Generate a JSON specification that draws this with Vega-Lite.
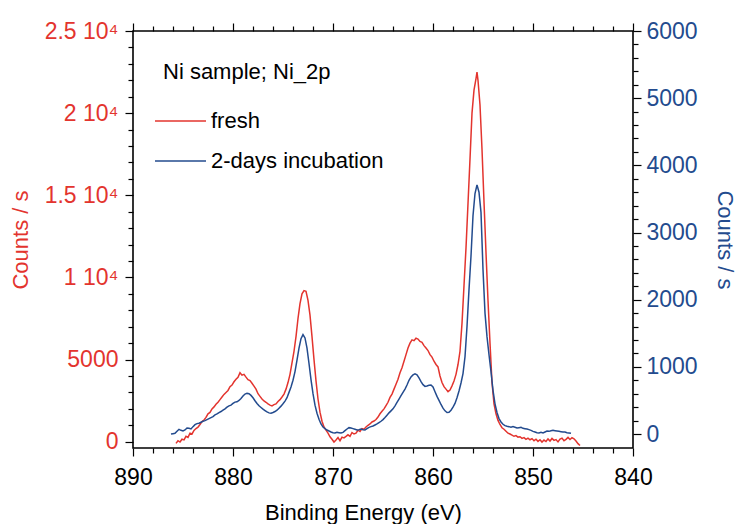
{
  "$schema": "https://vega.github.io/schema/vega-lite/v6.json",
  "width": 500,
  "height": 417,
  "autosize": "none",
  "padding": {"left": 133, "top": 31, "right": 106, "bottom": 76},
  "background": "white",
  "title": {"text": "Ni sample; Ni_2p", "anchor": "start", "frame": "group", "orient": "top", "offset": 0, "dx": 30, "dy": 81, "baseline": "alphabetic", "fontSize": 22, "fontWeight": "normal", "color": "black"},
  "config": {
    "font": "Liberation Sans",
    "view": {"stroke": "black", "strokeWidth": 1.6},
    "axis": {"grid": false, "zindex": 2, "domain": false, "labelFontSize": 23, "titleFontSize": 22, "titleFontWeight": "normal", "labelOverlap": false, "labelFlush": false}
  },
  "datasets": {
    "fresh": [
      {"e":885.7,"c":-100},{"e":885.5,"c":60},{"e":885.3,"c":-20},{"e":885.1,"c":150},{"e":884.9,"c":110},{"e":884.7,"c":330},{"e":884.5,"c":260},{"e":884.3,"c":520},{"e":884.1,"c":470},{"e":883.9,"c":690},{"e":883.7,"c":800},{"e":883.5,"c":880},{"e":883.3,"c":1050},{"e":883.1,"c":1230},{"e":882.9,"c":1320},{"e":882.7,"c":1480},{"e":882.5,"c":1700},{"e":882.3,"c":1780},{"e":882.1,"c":2000},{"e":881.9,"c":2120},{"e":881.7,"c":2280},{"e":881.5,"c":2400},{"e":881.3,"c":2560},{"e":881.1,"c":2720},{"e":880.9,"c":2880},{"e":880.7,"c":3000},{"e":880.5,"c":3120},{"e":880.3,"c":3350},{"e":880.1,"c":3450},{"e":879.9,"c":3650},{"e":879.7,"c":3800},{"e":879.5,"c":3920},{"e":879.3,"c":4200},{"e":879.1,"c":4050},{"e":878.9,"c":4100},{"e":878.7,"c":3930},{"e":878.5,"c":3780},{"e":878.3,"c":3720},{"e":878.1,"c":3560},{"e":877.9,"c":3380},{"e":877.7,"c":3200},{"e":877.5,"c":2920},{"e":877.3,"c":2760},{"e":877.1,"c":2600},{"e":876.9,"c":2480},{"e":876.7,"c":2400},{"e":876.5,"c":2300},{"e":876.3,"c":2230},{"e":876.1,"c":2180},{"e":875.9,"c":2260},{"e":875.7,"c":2300},{"e":875.5,"c":2450},{"e":875.3,"c":2560},{"e":875.1,"c":2720},{"e":874.9,"c":2900},{"e":874.7,"c":3200},{"e":874.5,"c":3600},{"e":874.3,"c":4100},{"e":874.1,"c":4800},{"e":873.9,"c":5500},{"e":873.7,"c":6400},{"e":873.5,"c":7500},{"e":873.3,"c":8400},{"e":873.1,"c":9000},{"e":872.9,"c":9200},{"e":872.7,"c":9150},{"e":872.5,"c":8600},{"e":872.3,"c":7700},{"e":872.1,"c":6400},{"e":871.9,"c":5000},{"e":871.7,"c":3700},{"e":871.5,"c":2600},{"e":871.3,"c":1800},{"e":871.1,"c":1250},{"e":870.9,"c":900},{"e":870.7,"c":700},{"e":870.5,"c":520},{"e":870.3,"c":300},{"e":870.1,"c":150},{"e":869.9,"c":-20},{"e":869.7,"c":100},{"e":869.5,"c":250},{"e":869.3,"c":60},{"e":869.1,"c":280},{"e":868.9,"c":230},{"e":868.7,"c":320},{"e":868.5,"c":420},{"e":868.3,"c":330},{"e":868.1,"c":560},{"e":867.9,"c":470},{"e":867.7,"c":520},{"e":867.5,"c":700},{"e":867.3,"c":620},{"e":867.1,"c":800},{"e":866.9,"c":760},{"e":866.7,"c":900},{"e":866.5,"c":1000},{"e":866.3,"c":1080},{"e":866.1,"c":1200},{"e":865.9,"c":1260},{"e":865.7,"c":1350},{"e":865.5,"c":1500},{"e":865.3,"c":1700},{"e":865.1,"c":1850},{"e":864.9,"c":2000},{"e":864.7,"c":2200},{"e":864.5,"c":2400},{"e":864.3,"c":2700},{"e":864.1,"c":2900},{"e":863.9,"c":3200},{"e":863.7,"c":3500},{"e":863.5,"c":3800},{"e":863.3,"c":4200},{"e":863.1,"c":4500},{"e":862.9,"c":4900},{"e":862.7,"c":5300},{"e":862.5,"c":5700},{"e":862.3,"c":6000},{"e":862.1,"c":6200},{"e":861.9,"c":6150},{"e":861.7,"c":6300},{"e":861.5,"c":6250},{"e":861.3,"c":6100},{"e":861.1,"c":6050},{"e":860.9,"c":5850},{"e":860.7,"c":5700},{"e":860.5,"c":5550},{"e":860.3,"c":5300},{"e":860.1,"c":5150},{"e":859.9,"c":4900},{"e":859.7,"c":4700},{"e":859.5,"c":4550},{"e":859.3,"c":4000},{"e":859.1,"c":3600},{"e":858.9,"c":3350},{"e":858.7,"c":3200},{"e":858.5,"c":3050},{"e":858.3,"c":3150},{"e":858.1,"c":3400},{"e":857.9,"c":3700},{"e":857.7,"c":4100},{"e":857.5,"c":4700},{"e":857.3,"c":5500},{"e":857.1,"c":7200},{"e":856.9,"c":9500},{"e":856.7,"c":11800},{"e":856.5,"c":14500},{"e":856.3,"c":17200},{"e":856.1,"c":20000},{"e":855.9,"c":21400},{"e":855.7,"c":22100},{"e":855.6,"c":22500},{"e":855.5,"c":22000},{"e":855.3,"c":20500},{"e":855.1,"c":17800},{"e":854.9,"c":14600},{"e":854.7,"c":11500},{"e":854.5,"c":8600},{"e":854.3,"c":6000},{"e":854.1,"c":3600},{"e":853.9,"c":2300},{"e":853.7,"c":1700},{"e":853.5,"c":1300},{"e":853.3,"c":1050},{"e":853.1,"c":850},{"e":852.9,"c":760},{"e":852.7,"c":640},{"e":852.5,"c":520},{"e":852.3,"c":470},{"e":852.1,"c":400},{"e":851.9,"c":330},{"e":851.7,"c":370},{"e":851.5,"c":280},{"e":851.3,"c":300},{"e":851.1,"c":200},{"e":850.9,"c":250},{"e":850.7,"c":140},{"e":850.5,"c":220},{"e":850.3,"c":120},{"e":850.1,"c":190},{"e":849.9,"c":60},{"e":849.7,"c":150},{"e":849.5,"c":20},{"e":849.3,"c":120},{"e":849.1,"c":-20},{"e":848.9,"c":100},{"e":848.7,"c":10},{"e":848.5,"c":170},{"e":848.3,"c":40},{"e":848.1,"c":200},{"e":847.9,"c":80},{"e":847.7,"c":130},{"e":847.5,"c":-10},{"e":847.3,"c":160},{"e":847.1,"c":220},{"e":846.9,"c":60},{"e":846.7,"c":140},{"e":846.5,"c":260},{"e":846.3,"c":130},{"e":846.1,"c":240},{"e":845.9,"c":180},{"e":845.7,"c":40},{"e":845.5,"c":-120},{"e":845.3,"c":-230}
    ],
    "incubation": [
      {"e":886.2,"c":0},{"e":886.0,"c":5},{"e":885.8,"c":10},{"e":885.6,"c":40},{"e":885.4,"c":70},{"e":885.2,"c":55},{"e":885.0,"c":45},{"e":884.8,"c":60},{"e":884.6,"c":90},{"e":884.4,"c":85},{"e":884.2,"c":75},{"e":884.0,"c":110},{"e":883.8,"c":140},{"e":883.6,"c":155},{"e":883.4,"c":160},{"e":883.2,"c":175},{"e":883.0,"c":190},{"e":882.8,"c":200},{"e":882.6,"c":215},{"e":882.4,"c":230},{"e":882.2,"c":245},{"e":882.0,"c":260},{"e":881.8,"c":285},{"e":881.6,"c":300},{"e":881.4,"c":320},{"e":881.2,"c":335},{"e":881.0,"c":355},{"e":880.8,"c":375},{"e":880.6,"c":400},{"e":880.4,"c":420},{"e":880.2,"c":430},{"e":880.0,"c":455},{"e":879.8,"c":475},{"e":879.6,"c":480},{"e":879.4,"c":500},{"e":879.2,"c":530},{"e":879.0,"c":565},{"e":878.8,"c":595},{"e":878.6,"c":605},{"e":878.4,"c":600},{"e":878.2,"c":575},{"e":878.0,"c":540},{"e":877.8,"c":495},{"e":877.6,"c":455},{"e":877.4,"c":420},{"e":877.2,"c":395},{"e":877.0,"c":370},{"e":876.8,"c":350},{"e":876.6,"c":330},{"e":876.4,"c":315},{"e":876.2,"c":310},{"e":876.0,"c":320},{"e":875.8,"c":335},{"e":875.6,"c":355},{"e":875.4,"c":385},{"e":875.2,"c":415},{"e":875.0,"c":450},{"e":874.8,"c":490},{"e":874.6,"c":540},{"e":874.4,"c":620},{"e":874.2,"c":700},{"e":874.0,"c":800},{"e":873.8,"c":930},{"e":873.6,"c":1100},{"e":873.4,"c":1280},{"e":873.2,"c":1420},{"e":873.0,"c":1480},{"e":872.8,"c":1430},{"e":872.6,"c":1280},{"e":872.4,"c":1050},{"e":872.2,"c":810},{"e":872.0,"c":600},{"e":871.8,"c":430},{"e":871.6,"c":310},{"e":871.4,"c":220},{"e":871.2,"c":150},{"e":871.0,"c":105},{"e":870.8,"c":80},{"e":870.6,"c":60},{"e":870.4,"c":45},{"e":870.2,"c":30},{"e":870.0,"c":20},{"e":869.8,"c":15},{"e":869.6,"c":25},{"e":869.4,"c":20},{"e":869.2,"c":15},{"e":869.0,"c":25},{"e":868.8,"c":50},{"e":868.6,"c":75},{"e":868.4,"c":95},{"e":868.2,"c":90},{"e":868.0,"c":80},{"e":867.8,"c":70},{"e":867.6,"c":60},{"e":867.4,"c":65},{"e":867.2,"c":75},{"e":867.0,"c":65},{"e":866.8,"c":60},{"e":866.6,"c":80},{"e":866.4,"c":100},{"e":866.2,"c":110},{"e":866.0,"c":120},{"e":865.8,"c":135},{"e":865.6,"c":150},{"e":865.4,"c":170},{"e":865.2,"c":190},{"e":865.0,"c":215},{"e":864.8,"c":245},{"e":864.6,"c":280},{"e":864.4,"c":315},{"e":864.2,"c":345},{"e":864.0,"c":375},{"e":863.8,"c":420},{"e":863.6,"c":470},{"e":863.4,"c":520},{"e":863.2,"c":570},{"e":863.0,"c":620},{"e":862.8,"c":670},{"e":862.6,"c":730},{"e":862.4,"c":800},{"e":862.2,"c":850},{"e":862.0,"c":880},{"e":861.8,"c":895},{"e":861.6,"c":880},{"e":861.4,"c":835},{"e":861.2,"c":780},{"e":861.0,"c":735},{"e":860.8,"c":710},{"e":860.6,"c":715},{"e":860.4,"c":725},{"e":860.2,"c":730},{"e":860.0,"c":700},{"e":859.8,"c":630},{"e":859.6,"c":560},{"e":859.4,"c":500},{"e":859.2,"c":440},{"e":859.0,"c":385},{"e":858.8,"c":345},{"e":858.6,"c":320},{"e":858.4,"c":325},{"e":858.2,"c":355},{"e":858.0,"c":400},{"e":857.8,"c":455},{"e":857.6,"c":540},{"e":857.4,"c":640},{"e":857.2,"c":760},{"e":857.0,"c":900},{"e":856.8,"c":1150},{"e":856.6,"c":1600},{"e":856.4,"c":2150},{"e":856.2,"c":2650},{"e":856.0,"c":3250},{"e":855.8,"c":3580},{"e":855.6,"c":3710},{"e":855.4,"c":3600},{"e":855.2,"c":3300},{"e":855.0,"c":2450},{"e":854.8,"c":1800},{"e":854.6,"c":1450},{"e":854.4,"c":1180},{"e":854.2,"c":930},{"e":854.0,"c":650},{"e":853.8,"c":450},{"e":853.6,"c":320},{"e":853.4,"c":230},{"e":853.2,"c":180},{"e":853.0,"c":145},{"e":852.8,"c":125},{"e":852.6,"c":115},{"e":852.4,"c":110},{"e":852.2,"c":100},{"e":852.0,"c":110},{"e":851.8,"c":100},{"e":851.6,"c":90},{"e":851.4,"c":95},{"e":851.2,"c":100},{"e":851.0,"c":85},{"e":850.8,"c":80},{"e":850.6,"c":75},{"e":850.4,"c":65},{"e":850.2,"c":55},{"e":850.0,"c":40},{"e":849.8,"c":30},{"e":849.6,"c":20},{"e":849.4,"c":15},{"e":849.2,"c":25},{"e":849.0,"c":15},{"e":848.8,"c":30},{"e":848.6,"c":45},{"e":848.4,"c":40},{"e":848.2,"c":50},{"e":848.0,"c":55},{"e":847.8,"c":50},{"e":847.6,"c":45},{"e":847.4,"c":40},{"e":847.2,"c":35},{"e":847.0,"c":30},{"e":846.8,"c":30},{"e":846.6,"c":20},{"e":846.4,"c":15},{"e":846.2,"c":10}
    ]
  },
  "layer": [
    {
      "data": {"name": "fresh"},
      "mark": {"type": "line", "strokeWidth": 1.5},
      "encoding": {
        "x": {
          "field": "e", "type": "quantitative",
          "scale": {"domain": [840, 890], "reverse": true, "nice": false, "zero": false},
          "axis": {
            "orient": "bottom",
            "title": "Binding Energy (eV)",
            "titleColor": "black",
            "titleX": 230, "titleY": 71, "titleBaseline": "alphabetic", "titleAnchor": "middle",
            "values": [840,842,844,846,848,850,852,854,856,858,860,862,864,866,868,870,872,874,876,878,880,882,884,886,888,890],
            "format": "d",
            "labelExpr": "datum.value % 10 === 0 ? datum.label : ''",
            "labelColor": "black",
            "labelBaseline": "alphabetic",
            "ticks": true,
            "tickColor": "#000000",
            "tickWidth": 1.2,
            "tickSize": {"condition": {"test": "datum.value % 10 === 0", "value": 8}, "value": 5},
            "labelPadding": 28
          }
        },
        "y": {
          "field": "c", "type": "quantitative",
          "scale": {"domain": [-383, 25000], "nice": false, "zero": false},
          "axis": {
            "orient": "left",
            "title": "Counts / s",
            "titleColor": "#e3342e",
            "titlePadding": 12,
            "values": [0,1000,2000,3000,4000,5000,6000,7000,8000,9000,10000,11000,12000,13000,14000,15000,16000,17000,18000,19000,20000,21000,22000,23000,24000,25000],
            "labelExpr": "datum.value == 25000 ? '2.5 10⁴' : datum.value == 20000 ? '2 10⁴' : datum.value == 15000 ? '1.5 10⁴' : datum.value == 10000 ? '1 10⁴' : datum.value == 5000 ? '5000' : datum.value == 0 ? '0' : ''",
            "labelColor": "#e3342e",
            "ticks": true,
            "tickColor": "#000000",
            "tickWidth": 1.2,
            "tickSize": {"condition": {"test": "datum.value % 5000 === 0", "value": 8}, "value": 5},
            "labelPadding": 7
          }
        },
        "color": {
          "datum": "fresh",
          "type": "nominal",
          "scale": {"domain": ["fresh", "2-days incubation"], "range": ["#e3342e", "#234b8e"]},
          "legend": {
            "orient": "none", "legendX": 21, "legendY": 79, "direction": "vertical",
            "title": null,
            "symbolType": "stroke", "symbolStrokeWidth": 1.5, "symbolSize": 2600, "clipHeight": 22, "rowPadding": 18,
            "labelFontSize": 22, "labelOffset": 4, "labelLimit": 0, "padding": 0,
            "encoding": {
              "labels": {"update": {"fill": {"scale": "color", "field": "value"}}}
            }
          }
        }
      }
    },
    {
      "data": {"name": "incubation"},
      "mark": {"type": "line", "strokeWidth": 1.5},
      "encoding": {
        "x": {
          "field": "e", "type": "quantitative",
          "axis": {
            "orient": "top", "title": null, "labels": false,
            "values": [840,842,844,846,848,850,852,854,856,858,860,862,864,866,868,870,872,874,876,878,880,882,884,886,888,890],
            "ticks": true,
            "tickColor": "#000000",
            "tickWidth": 1.2,
            "tickSize": {"condition": {"test": "datum.value % 10 === 0", "value": 8}, "value": 5}
          }
        },
        "y": {
          "field": "c", "type": "quantitative",
          "scale": {"domain": [-208, 6000], "nice": false, "zero": false},
          "axis": {
            "orient": "right",
            "title": "Counts / s",
            "titleColor": "#234b8e",
            "titlePadding": 15,
            "values": [0,200,400,600,800,1000,1200,1400,1600,1800,2000,2200,2400,2600,2800,3000,3200,3400,3600,3800,4000,4200,4400,4600,4800,5000,5200,5400,5600,5800,6000],
            "labelExpr": "datum.value % 1000 === 0 ? datum.label : ''",
            "format": "d",
            "labelColor": "#234b8e",
            "ticks": true,
            "tickColor": "#000000",
            "tickWidth": 1.2,
            "tickSize": {"condition": {"test": "datum.value % 1000 === 0", "value": 8}, "value": 5},
            "labelPadding": 5
          }
        },
        "color": {"datum": "2-days incubation", "type": "nominal"}
      }
    }
  ],
  "resolve": {"scale": {"y": "independent"}, "axis": {"x": "independent", "y": "independent"}}
}
